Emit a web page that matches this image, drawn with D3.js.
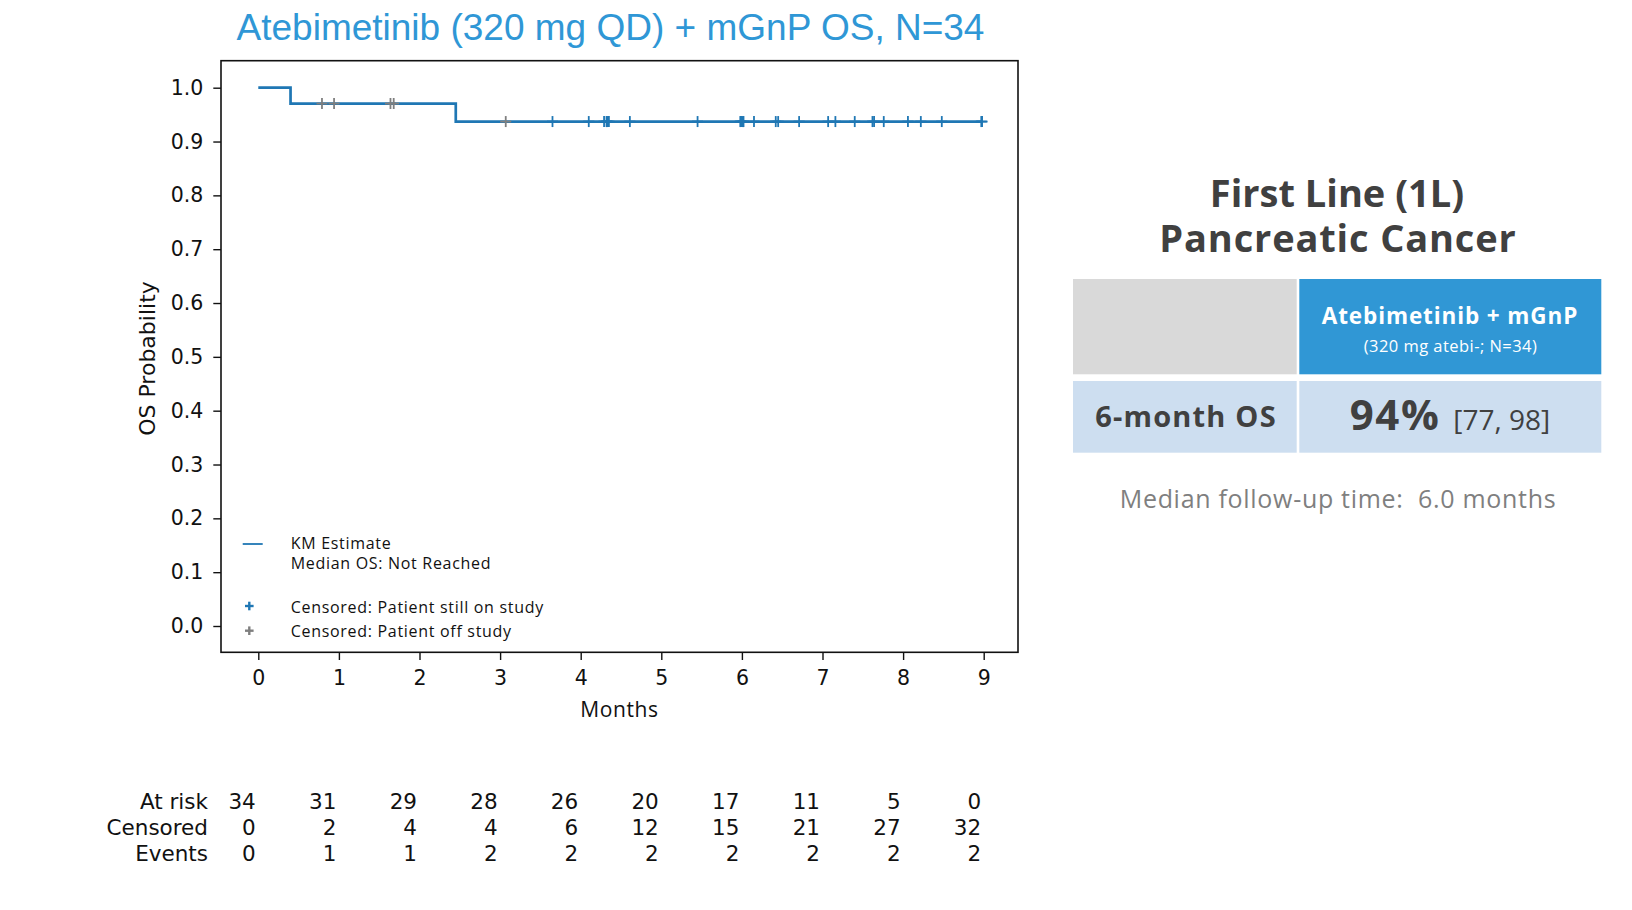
<!DOCTYPE html>
<html><head><meta charset="utf-8">
<script src="https://cdn.jsdelivr.net/npm/d3@7"></script>
<style>html,body{margin:0;padding:0;background:#fff;}</style>
</head><body>
<svg id="chart" width="1632" height="910"></svg>
<script>
// ---- data ----
const title = "Atebimetinib (320 mg QD) + mGnP OS, N=34";
const kmTimes = [0, 0.40, 2.45, 8.98];
const kmSurv = [1.0, 0.9706, 0.9371, 0.9371];
const censorOnStudy = [3.65, 4.10, 4.29, 4.32, 4.33, 4.35, 4.61, 5.45, 5.98, 5.99, 6.01, 6.02, 6.15, 6.42, 6.45, 6.71, 7.07, 7.16, 7.40, 7.62, 7.64, 7.76, 8.06, 8.22, 8.48, 8.97, 8.98];
const censorOffStudy = [0.79, 0.94, 1.64, 1.68, 3.07];
const xTicks = [0,1,2,3,4,5,6,7,8,9];
const yTicks = [0.0,0.1,0.2,0.3,0.4,0.5,0.6,0.7,0.8,0.9,1.0];
const riskRows = ["At risk", "Censored", "Events"];
const atRisk = [34,31,29,28,26,20,17,11,5,0];
const censoredCounts = [0,2,4,4,6,12,15,21,27,32];
const eventCounts = [0,1,1,2,2,2,2,2,2,2];
const legendLabels = ["KM Estimate", "Median OS: Not Reached", "Censored: Patient still on study", "Censored: Patient off study"];
const panelTitle = ["First Line (1L)", "Pancreatic Cancer"];
const armName = "Atebimetinib + mGnP";
const armSub = "(320 mg atebi-; N=34)";
const rowLabel = "6-month OS";
const osValue = "94%";
const osCI = "[77, 98]";
const followUp = "Median follow-up time:  6.0 months";

// ---- layout ----
const svg = d3.select("#chart");
const L = 221, R = 1018, T = 60.7, B = 652.3;
const x = d3.scaleLinear().domain([0, 9]).range([258.3, 983.7]);
const y = d3.scaleLinear().domain([0, 1]).range([626, 87.7]);
const blue = "#1f77b4", grey = "#7f7f7f";
const txtFont = "'Open Sans', sans-serif";

svg.append("text").attr("x", 610.5).attr("y", 39.5).attr("text-anchor","middle")
  .attr("font-family","'Liberation Sans', Arial, sans-serif").attr("font-size",37)
  .attr("fill","#2f97d6").text(title);

// axes
const gx = svg.append("g").attr("transform",`translate(0,${B})`)
  .call(d3.axisBottom(x).tickValues(xTicks).tickFormat(d3.format("d")).tickSizeOuter(0).tickSize(7.7).tickPadding(10));
const gy = svg.append("g").attr("transform",`translate(${L},0)`)
  .call(d3.axisLeft(y).tickValues(yTicks).tickFormat(d3.format(".1f")).tickSizeOuter(0).tickSize(7.7).tickPadding(10));
[gx, gy].forEach(g => {
  g.select(".domain").remove();
  g.selectAll("text").attr("font-family","'DejaVu Sans', sans-serif").attr("font-size",20.5).attr("fill","#111");
  g.selectAll("line").attr("stroke","#111").attr("stroke-width",1.4);
});
gx.selectAll("text").attr("dy","0.71em");
svg.append("rect").attr("x",L).attr("y",T).attr("width",R-L).attr("height",B-T)
  .attr("fill","none").attr("stroke","#111").attr("stroke-width",1.6);

svg.append("text").attr("transform",`translate(155,${(T+B)/2 + 2}) rotate(-90)`)
  .attr("text-anchor","middle").attr("font-family","'DejaVu Sans', sans-serif").attr("font-size",22)
  .attr("fill","#111").text("OS Probability");
svg.append("text").attr("x",(L+R)/2).attr("y",717).attr("text-anchor","middle")
  .attr("font-family",txtFont).attr("font-size",21).attr("letter-spacing",0.6).attr("fill","#111").text("Months");

// KM step line
const kmData = kmTimes.map((t,i)=>({t, s: kmSurv[i]}));
svg.append("path").datum(kmData)
  .attr("d", d3.line().x(d=>x(d.t)).y(d=>y(d.s)).curve(d3.curveStepAfter))
  .attr("fill","none").attr("stroke",blue).attr("stroke-width",2.7);

function survAt(t){ const i = d3.bisectRight(kmTimes, t) - 1; return kmSurv[Math.max(0,i)]; }
function plus(g, t, color){
  const cx = x(t), cy = y(survAt(t)), h = 5.5;
  g.append("line").attr("x1",cx-h).attr("x2",cx+h).attr("y1",cy).attr("y2",cy).attr("stroke",color).attr("stroke-width",1.8);
  g.append("line").attr("x1",cx).attr("x2",cx).attr("y1",cy-h).attr("y2",cy+h).attr("stroke",color).attr("stroke-width",1.8);
}
const gc = svg.append("g");
censorOffStudy.forEach(t=>plus(gc,t,grey));
censorOnStudy.forEach(t=>plus(gc,t,blue));

// legend
const lg = svg.append("g").attr("font-family",txtFont).attr("font-size",16).attr("letter-spacing",0.7).attr("fill","#111");
lg.append("line").attr("x1",242.7).attr("x2",262.7).attr("y1",544).attr("y2",544).attr("stroke",blue).attr("stroke-width",1.8);
lg.append("text").attr("x",290.7).attr("y",549.3).text(legendLabels[0]);
lg.append("text").attr("x",290.7).attr("y",569.3).text(legendLabels[1]);
[[606,blue,2,613.3],[630.7,grey,3,637.3]].forEach(([yy,c,i,ty])=>{
  lg.append("line").attr("x1",245).attr("x2",253.6).attr("y1",yy).attr("y2",yy).attr("stroke",c).attr("stroke-width",2.4);
  lg.append("line").attr("x1",249.3).attr("x2",249.3).attr("y1",yy-4.3).attr("y2",yy+4.3).attr("stroke",c).attr("stroke-width",2.4);
  lg.append("text").attr("x",290.7).attr("y",ty).text(legendLabels[i]);
});

// at risk table
const rows = [atRisk, censoredCounts, eventCounts];
const rt = svg.append("g").attr("font-family","'DejaVu Sans', sans-serif").attr("font-size",21.5).attr("fill","#111");
rows.forEach((vals, r) => {
  const yy = 809.3 + r*25.7;
  rt.append("text").attr("x",208).attr("y",yy).attr("text-anchor","end").text(riskRows[r]);
  vals.forEach((v,i)=>{
    rt.append("text").attr("x",x(xTicks[i])-2.5).attr("y",yy).attr("text-anchor","end").text(v);
  });
});

// right panel
const pf = "'Open Sans', sans-serif";
const dark = "#404040";
const pt = svg.append("g").attr("font-family",pf).attr("font-weight",700).attr("fill",dark).attr("text-anchor","middle");
pt.append("text").attr("x",1337).attr("y",207).attr("font-size",38).text(panelTitle[0]);
pt.append("text").attr("x",1338).attr("y",252).attr("font-size",38).attr("letter-spacing",0.85).text(panelTitle[1]);
svg.append("rect").attr("x",1073).attr("y",279).attr("width",223.7).attr("height",95.3).attr("fill","#d9d9d9");
svg.append("rect").attr("x",1299.3).attr("y",279).attr("width",302).attr("height",95.3).attr("fill","#3097d5");
svg.append("rect").attr("x",1073).attr("y",381).attr("width",223.7).attr("height",71.7).attr("fill","#cddef0");
svg.append("rect").attr("x",1299.3).attr("y",381).attr("width",302).attr("height",71.7).attr("fill","#cddef0");
svg.append("text").attr("x",1450).attr("y",324).attr("text-anchor","middle").attr("font-family",pf)
  .attr("font-weight",700).attr("font-size",22.5).attr("letter-spacing",0.9).attr("fill","#fff").text(armName);
svg.append("text").attr("x",1450.5).attr("y",351.5).attr("text-anchor","middle").attr("font-family",pf)
  .attr("font-size",16.5).attr("letter-spacing",0.45).attr("fill","#fff").text(armSub);
svg.append("text").attr("x",1186).attr("y",426.7).attr("text-anchor","middle").attr("font-family",pf)
  .attr("font-weight",700).attr("font-size",29).attr("letter-spacing",1.2).attr("fill",dark).text(rowLabel);
const ov = svg.append("text").attr("x",1450).attr("y",430).attr("text-anchor","middle").attr("font-family",pf).attr("fill",dark);
ov.append("tspan").attr("font-weight",700).attr("font-size",42).attr("letter-spacing",1.5).text(osValue);
ov.append("tspan").attr("font-size",28).attr("dx",13).text(osCI);
svg.append("text").attr("x",1338).attr("y",508).attr("text-anchor","middle").attr("font-family",pf)
  .attr("font-size",25).attr("letter-spacing",0.7).attr("xml:space","preserve").style("white-space","pre")
  .attr("fill","#7f7f7f").text(followUp);
</script>
</body></html>
